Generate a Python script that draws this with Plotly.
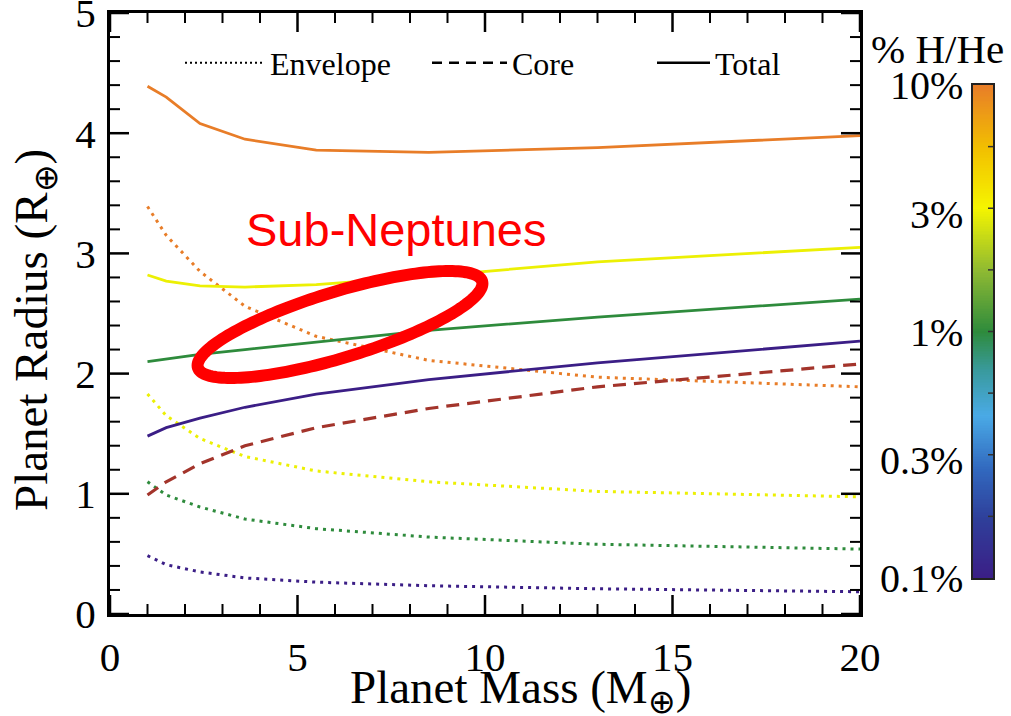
import numpy as np
import plotly.graph_objects as go
from plotly.colors import sample_colorscale

# ---------------- data ----------------
mass = [1, 1.5, 2.4, 3.6, 5.5, 8.5, 13, 20]

# H/He fraction (%) of each model family
fractions = [10, 3, 1, 0.1]

total_10 = [4.39, 4.30, 4.08, 3.95, 3.86, 3.84, 3.88, 3.98]
total_3 = [2.82, 2.77, 2.73, 2.72, 2.74, 2.81, 2.93, 3.05]
total_1 = [2.10, 2.12, 2.16, 2.20, 2.26, 2.36, 2.47, 2.62]
total_01 = [1.48, 1.55, 1.63, 1.72, 1.83, 1.95, 2.09, 2.27]

env_10 = [3.39, 3.15, 2.85, 2.56, 2.31, 2.11, 1.97, 1.89]
env_3 = [1.83, 1.65, 1.46, 1.31, 1.19, 1.10, 1.02, 0.975]
env_1 = [1.10, 0.99, 0.89, 0.79, 0.71, 0.64, 0.58, 0.54]
env_01 = [0.485, 0.41, 0.35, 0.30, 0.265, 0.235, 0.21, 0.185]

core = [0.99, 1.10, 1.25, 1.40, 1.55, 1.71, 1.89, 2.08]

cbar_tickvals_pct = [0.1, 0.3, 1, 3, 10]
cbar_ticktext = ["0.1%", "0.3%", "1%", "3%", "10%"]
x_tickvals = [0, 5, 10, 15, 20]
y_tickvals = [0, 1, 2, 3, 4, 5]
x_minor_step = 1
y_minor_step = 0.2
cbar_minor_step = 0.25  # in decades

# ---------------- styling ----------------
colorscale = [
    [0.00, "#3B1E86"],
    [0.12, "#2F3F9A"],
    [0.22, "#3168BE"],
    [0.33, "#4AAAE6"],
    [0.42, "#399A9E"],
    [0.50, "#2E8B3C"],
    [0.62, "#8CB833"],
    [0.75, "#F5F500"],
    [0.87, "#F2C000"],
    [1.00, "#E87D28"],
]
CORE_COLOR = "#A3342B"
SERIF = "Liberation Serif"
SANS = "Liberation Sans"
CLEAR = "rgba(0,0,0,0)"
MAJOR_LEN, MINOR_LEN = 19, 10   # tick lengths in px
CB_TICK_LEN = 5

W, H = 1011, 716
ML, MR, MT, MB = 110, 10, 13, 102
PW = W - ML - MR
PH = H - MT - MB
MAIN_W = 750  # px width of main plot area
CB_X0, CB_X1 = 973, 993
CB_Y0, CB_Y1 = 85, 578
X_RANGE, Y_RANGE = [0, 20], [0, 5]


def px2paper_x(px):
    return (px - ML) / PW


def px2paper_y(py):
    return (H - MB - py) / PH


def frac_color(pct):
    pos = (np.log10(pct) + 1) / 2
    return sample_colorscale(colorscale, [pos])[0]


fig = go.Figure()

envs = [env_10, env_3, env_1, env_01]
totals = [total_10, total_3, total_1, total_01]

for pct, env in zip(fractions, envs):
    fig.add_trace(go.Scatter(
        x=mass, y=env, mode="lines",
        line=dict(color=frac_color(pct), width=3, dash="3px,5px"),
        showlegend=False, hoverinfo="skip"))

fig.add_trace(go.Scatter(
    x=mass, y=core, mode="lines",
    line=dict(color=CORE_COLOR, width=3.2, dash="13px,8px"),
    showlegend=False, hoverinfo="skip"))

for pct, tot in zip(fractions, totals):
    fig.add_trace(go.Scatter(
        x=mass, y=tot, mode="lines",
        line=dict(color=frac_color(pct), width=2.8),
        showlegend=False, hoverinfo="skip"))

# ---------------- inward tick marks on all four sides ----------------
xs_per_px = (X_RANGE[1] - X_RANGE[0]) / MAIN_W
ys_per_px = (Y_RANGE[1] - Y_RANGE[0]) / PH
x_all = np.arange(X_RANGE[0], X_RANGE[1] + 1e-9, x_minor_step)
y_all = np.round(np.arange(Y_RANGE[0], Y_RANGE[1] + 1e-9, y_minor_step), 6)


def tick_trace(is_major):
    ln = MAJOR_LEN if is_major else MINOR_LEN
    tx, ty = [], []
    for v in x_all:
        if any(abs(v - m) < 1e-9 for m in x_tickvals) != is_major:
            continue
        dy = ln * ys_per_px
        tx += [v, v, None, v, v, None]
        ty += [Y_RANGE[0], Y_RANGE[0] + dy, None, Y_RANGE[1], Y_RANGE[1] - dy, None]
    for v in y_all:
        if any(abs(v - m) < 1e-9 for m in y_tickvals) != is_major:
            continue
        dx = ln * xs_per_px
        tx += [X_RANGE[0], X_RANGE[0] + dx, None, X_RANGE[1], X_RANGE[1] - dx, None]
        ty += [v, v, None, v, v, None]
    return go.Scatter(x=tx, y=ty, mode="lines", cliponaxis=False,
                      line=dict(color="black", width=2.5 if is_major else 2),
                      showlegend=False, hoverinfo="skip")


fig.add_trace(tick_trace(False))
fig.add_trace(tick_trace(True))

# legend entries (black style keys), each in its own legend box
fig.add_trace(go.Scatter(x=[None], y=[None], mode="lines", name="Envelope", legend="legend",
                         line=dict(color="black", width=2, dash="2px,3px")))
fig.add_trace(go.Scatter(x=[None], y=[None], mode="lines", name="Core", legend="legend2",
                         line=dict(color="black", width=2.5, dash="10px,7px")))
fig.add_trace(go.Scatter(x=[None], y=[None], mode="lines", name="Total", legend="legend3",
                         line=dict(color="black", width=2.5)))

# colour bar drawn as a heatmap on its own axes
cb_levels = np.linspace(-1, 1, 301)
fig.add_trace(go.Heatmap(
    x=[0.5], y=cb_levels, z=[[v] for v in cb_levels],
    colorscale=colorscale, zmin=-1, zmax=1, showscale=False,
    xaxis="x2", yaxis="y2", hoverinfo="skip"))

# small ticks along the right edge of the colour bar
cb_frac = CB_TICK_LEN / (CB_X1 - CB_X0)
cbx, cby = [], []
for v in np.arange(-1 + cbar_minor_step, 1 - 1e-9, cbar_minor_step):
    cbx += [1, 1 - cb_frac, None]
    cby += [v, v, None]
fig.add_trace(go.Scatter(x=cbx, y=cby, mode="lines", xaxis="x2", yaxis="y2",
                         line=dict(color="#333", width=1.5),
                         showlegend=False, hoverinfo="skip"))

# ---------------- Sub-Neptunes ellipse (annotation) ----------------
ell_cx_px, ell_cy_px = 340, 324.5
ell_a, ell_b, ell_theta = 148.5, 33.0, np.deg2rad(16.9)
t = np.linspace(0, 2 * np.pi, 181)
ex = ell_a * np.cos(t) * np.cos(ell_theta) + ell_b * np.sin(t) * np.sin(ell_theta)
ey = -ell_a * np.cos(t) * np.sin(ell_theta) + ell_b * np.sin(t) * np.cos(ell_theta)
cx_d = (ell_cx_px - ML) * xs_per_px
cy_d = (H - MB - ell_cy_px) * ys_per_px
path = "M " + " L ".join(
    f"{cx_d + dx * xs_per_px:.4f},{cy_d - dy * ys_per_px:.4f}" for dx, dy in zip(ex, ey)) + " Z"
fig.add_shape(type="path", path=path, xref="x", yref="y",
              line=dict(color="#FF0000", width=12), layer="above")

fig.add_annotation(x=(396 - ML) * xs_per_px, y=(H - MB - 229) * ys_per_px,
                   xref="x", yref="y", text="Sub-Neptunes", showarrow=False,
                   font=dict(family=SANS, size=47, color="#FF0000"),
                   xanchor="center", yanchor="middle")

fig.add_annotation(x=px2paper_x(937), y=px2paper_y(49), xref="paper", yref="paper",
                   text="% H/He", showarrow=False,
                   font=dict(family=SERIF, size=41, color="black"),
                   xanchor="center", yanchor="middle")

# axis titles
fig.add_annotation(x=px2paper_x(520), y=px2paper_y(691), xref="paper", yref="paper",
                   text="Planet Mass (M<sub>⊕</sub>)", showarrow=False,
                   font=dict(family=SERIF, size=47, color="black"),
                   xanchor="center", yanchor="middle")
fig.add_annotation(x=px2paper_x(34), y=px2paper_y(330), xref="paper", yref="paper",
                   text="Planet Radius (R<sub>⊕</sub>)", showarrow=False, textangle=-90,
                   font=dict(family=SERIF, size=47, color="black"),
                   xanchor="center", yanchor="middle")

main_axis = dict(
    showline=True, linewidth=3, linecolor="black", mirror=True,
    ticks="outside", tickcolor=CLEAR, tickwidth=1,
    showgrid=False, zeroline=False, automargin=False, ticklabeloverflow="allow",
    tickfont=dict(family=SERIF, size=41, color="black"),
)

fig.update_layout(
    width=W, height=H,
    margin=dict(l=ML, r=MR, t=MT, b=MB, autoexpand=False),
    paper_bgcolor="white", plot_bgcolor="white",
    font=dict(family=SERIF, color="black"),
    xaxis=dict(domain=[0, MAIN_W / PW], anchor="y", range=X_RANGE,
               tickvals=x_tickvals, ticklen=5, **main_axis),
    yaxis=dict(domain=[0, 1], anchor="x", range=Y_RANGE,
               tickvals=y_tickvals, ticklen=3, **main_axis),
    # colour bar axes
    xaxis2=dict(domain=[px2paper_x(CB_X0), px2paper_x(CB_X1)], anchor="y2", range=[0, 1],
                showticklabels=False, ticks="", showgrid=False, zeroline=False,
                showline=True, linewidth=1.5, linecolor="#222", mirror=True,
                automargin=False),
    yaxis2=dict(domain=[px2paper_y(CB_Y1), px2paper_y(CB_Y0)], anchor="x2", range=[-1, 1],
                tickvals=[float(v) for v in np.log10(cbar_tickvals_pct)], ticktext=cbar_ticktext,
                side="left", ticks="outside", ticklen=0, tickcolor=CLEAR,
                showgrid=False, zeroline=False, automargin=False, ticklabeloverflow="allow",
                showline=True, linewidth=1.5, linecolor="#222", mirror=True,
                tickfont=dict(family=SERIF, size=40, color="black")),
    legend=dict(orientation="h", x=px2paper_x(180), y=px2paper_y(63),
                xanchor="left", yanchor="middle", bgcolor=CLEAR,
                itemwidth=80, font=dict(family=SERIF, size=32, color="black")),
    legend2=dict(orientation="h", x=px2paper_x(427), y=px2paper_y(63),
                 xanchor="left", yanchor="middle", bgcolor=CLEAR,
                 itemwidth=75, font=dict(family=SERIF, size=32, color="black")),
    legend3=dict(orientation="h", x=px2paper_x(652), y=px2paper_y(63),
                 xanchor="left", yanchor="middle", bgcolor=CLEAR,
                 itemwidth=53, font=dict(family=SERIF, size=32, color="black")),
)

fig.write_html("out.html")
